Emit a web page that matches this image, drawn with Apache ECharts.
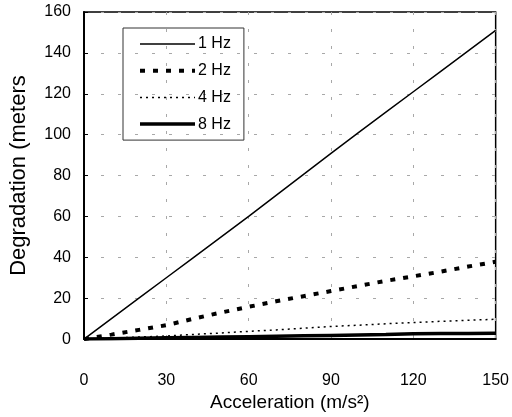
<!DOCTYPE html>
<html>
<head>
<meta charset="utf-8">
<script src="https://cdn.jsdelivr.net/npm/echarts@6/dist/echarts.min.js"></script>
<style>
html, body { margin: 0; padding: 0; background: #fff; }
#main { width: 512px; height: 417px; }
</style>
</head>
<body>
<div id="main"></div>
<script>
var accel = [0, 10, 20, 30, 40, 50, 60, 70, 80, 90, 100, 110, 120, 130, 140, 150]
var hz1 = [0, 10, 20, 30, 40, 50, 60, 70.3, 80.6, 90.8, 101, 111, 121, 131, 141, 151]
var hz2 = [0, 2.2, 4.5, 6.8, 10, 13, 15.8, 18.5, 21, 23.5, 26, 28.5, 30.7, 33, 35.5, 37.8]
var hz4 = [0, 0.5, 1, 1.5, 2.3, 3, 3.8, 4.5, 5.3, 6.2, 6.8, 7.5, 8.1, 8.7, 9.2, 9.7]
var hz8 = [0, 0.2, 0.4, 0.6, 0.8, 1, 1.2, 1.4, 1.6, 1.8, 2, 2.2, 2.6, 2.7, 2.8, 2.9]
var names = ['1 Hz', '2 Hz', '4 Hz', '8 Hz']

// line looks, shared by the series and their legend samples
var looks = [
	{ color: '#000', width: 1.5, type: 'solid' },
	{ color: '#000', width: 4, type: [5, 8] },
	{ color: '#000', width: 1.5, type: [2, 4] },
	{ color: '#000', width: 3.5, type: 'solid' }
]

function pairs(ys) {
	return accel.map(function (x, i) { return [x, ys[i]] })
}

var font = 'Liberation Sans, Arial, sans-serif'
var gridLine = { show: true, lineStyle: { color: '#a8a8a8', width: 1, type: [3, 14] } }
var sets = [hz1, hz2, hz4, hz8]

var myChart = echarts.init(document.getElementById('main'))
var option = {
	backgroundColor: '#fff',
	animation: false,
	grid: {
		left: 83, right: 16, top: 12, bottom: 71,
		show: true, borderColor: '#000', borderWidth: 1.5
	},
	legend: {
		orient: 'vertical',
		left: 123, top: 28,
		data: names.map(function (n, i) {
			return { name: n, itemStyle: { opacity: 0 }, lineStyle: looks[i] }
		}),
		itemWidth: 55, itemHeight: 14, itemGap: 10.7,
		padding: [8, 13, 8, 15],
		borderColor: '#333', borderWidth: 1,
		textStyle: { fontFamily: font, fontSize: 16, lineHeight: 16, color: '#000', padding: [0, 0, 0, -2] }
	},
	xAxis: {
		type: 'value', min: 0, max: 150, interval: 30,
		name: 'Acceleration (m/s²)', nameLocation: 'middle', nameGap: 46,
		nameTextStyle: { fontFamily: font, fontSize: 19, color: '#000' },
		axisLine: { lineStyle: { color: '#000', width: 2 } },
		axisTick: { show: false },
		axisLabel: { margin: 33, fontFamily: font, fontSize: 16, color: '#000' },
		splitLine: gridLine
	},
	yAxis: {
		type: 'value', min: 0, max: 160, interval: 20,
		name: 'Degradation (meters', nameLocation: 'middle', nameGap: 54,
		nameTextStyle: { fontFamily: font, fontSize: 22, color: '#000' },
		axisLine: { show: true, lineStyle: { color: '#000', width: 2 } },
		axisTick: { show: true, inside: true, length: 4, lineStyle: { color: '#000' } },
		axisLabel: { margin: 13, fontFamily: font, fontSize: 16, color: '#000' },
		splitLine: gridLine
	},
	series: names.map(function (n, i) {
		return {
			name: n, type: 'line', data: pairs(sets[i]), symbol: 'none',
			lineStyle: looks[i], itemStyle: { color: '#000' }
		}
	})
}
myChart.setOption(option)
</script>
</body>
</html>
